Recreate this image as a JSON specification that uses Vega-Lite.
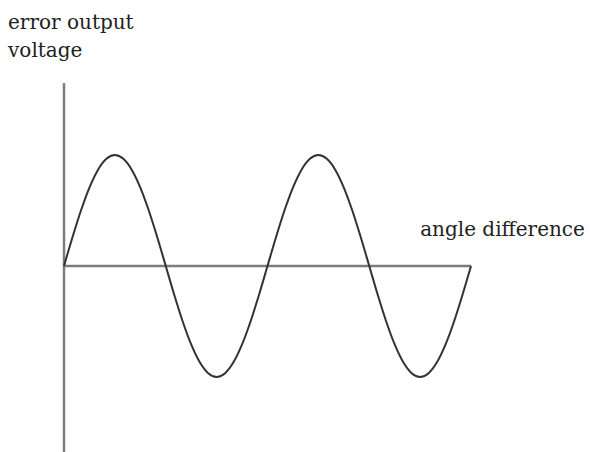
{
  "$schema": "https://vega.github.io/schema/vega-lite/v6.json",
  "width": 407,
  "height": 369,
  "autosize": {"type": "none"},
  "padding": {"left": 64, "top": 83, "right": 119, "bottom": 0},
  "background": "white",
  "config": {"view": {"stroke": null}},
  "datasets": {
    "wave": [
      {"angle": 0, "voltage": 0},
      {"angle": 15, "voltage": 0.259},
      {"angle": 30, "voltage": 0.5},
      {"angle": 45, "voltage": 0.707},
      {"angle": 60, "voltage": 0.866},
      {"angle": 75, "voltage": 0.966},
      {"angle": 90, "voltage": 1},
      {"angle": 105, "voltage": 0.966},
      {"angle": 120, "voltage": 0.866},
      {"angle": 135, "voltage": 0.707},
      {"angle": 150, "voltage": 0.5},
      {"angle": 165, "voltage": 0.259},
      {"angle": 180, "voltage": 0},
      {"angle": 195, "voltage": -0.259},
      {"angle": 210, "voltage": -0.5},
      {"angle": 225, "voltage": -0.707},
      {"angle": 240, "voltage": -0.866},
      {"angle": 255, "voltage": -0.966},
      {"angle": 270, "voltage": -1},
      {"angle": 285, "voltage": -0.966},
      {"angle": 300, "voltage": -0.866},
      {"angle": 315, "voltage": -0.707},
      {"angle": 330, "voltage": -0.5},
      {"angle": 345, "voltage": -0.259},
      {"angle": 360, "voltage": 0},
      {"angle": 375, "voltage": 0.259},
      {"angle": 390, "voltage": 0.5},
      {"angle": 405, "voltage": 0.707},
      {"angle": 420, "voltage": 0.866},
      {"angle": 435, "voltage": 0.966},
      {"angle": 450, "voltage": 1},
      {"angle": 465, "voltage": 0.966},
      {"angle": 480, "voltage": 0.866},
      {"angle": 495, "voltage": 0.707},
      {"angle": 510, "voltage": 0.5},
      {"angle": 525, "voltage": 0.259},
      {"angle": 540, "voltage": 0},
      {"angle": 555, "voltage": -0.259},
      {"angle": 570, "voltage": -0.5},
      {"angle": 585, "voltage": -0.707},
      {"angle": 600, "voltage": -0.866},
      {"angle": 615, "voltage": -0.966},
      {"angle": 630, "voltage": -1},
      {"angle": 645, "voltage": -0.966},
      {"angle": 660, "voltage": -0.866},
      {"angle": 675, "voltage": -0.707},
      {"angle": 690, "voltage": -0.5},
      {"angle": 705, "voltage": -0.259},
      {"angle": 720, "voltage": 0}
    ],
    "axesLines": [
      {"x1": 0, "x2": 0, "y1": -1.676, "y2": 1.649},
      {"x1": 0, "x2": 720, "y1": 0, "y2": 0}
    ],
    "labels": [
      {"angle": -99, "voltage": 2.135, "label": "error output"},
      {"angle": -99, "voltage": 1.883, "label": "voltage"},
      {"angle": 630, "voltage": 0.27, "label": "angle difference"}
    ]
  },
  "layer": [
    {
      "data": {"name": "axesLines"},
      "mark": {"type": "rule", "stroke": "#7c7c7c", "strokeWidth": 2.5},
      "encoding": {
        "x": {"field": "x1", "type": "quantitative", "scale": {"domain": [0, 720], "nice": false, "zero": false}, "axis": null},
        "x2": {"field": "x2"},
        "y": {"field": "y1", "type": "quantitative", "scale": {"domain": [-1.676, 1.649], "nice": false, "zero": false}, "axis": null},
        "y2": {"field": "y2"}
      }
    },
    {
      "data": {"name": "wave"},
      "mark": {"type": "line", "stroke": "#333333", "strokeWidth": 2, "interpolate": "monotone"},
      "encoding": {
        "x": {"field": "angle", "type": "quantitative"},
        "y": {"field": "voltage", "type": "quantitative"}
      }
    },
    {
      "data": {"name": "labels"},
      "mark": {"type": "text", "align": "left", "baseline": "alphabetic", "font": "DejaVu Serif", "fontSize": 20, "color": "#222222", "clip": false},
      "encoding": {
        "x": {"field": "angle", "type": "quantitative"},
        "y": {"field": "voltage", "type": "quantitative"},
        "text": {"field": "label"}
      }
    }
  ]
}
